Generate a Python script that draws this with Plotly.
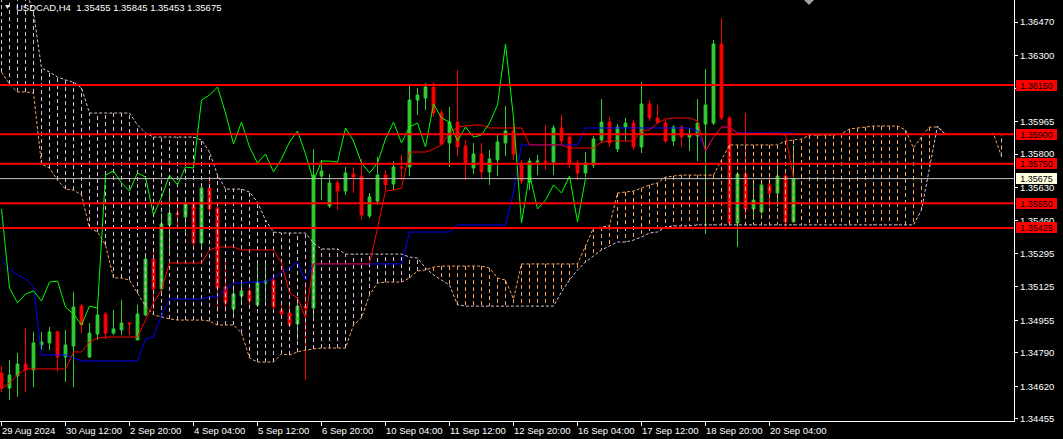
import plotly.graph_objects as go

# ---------------- data (USDCAD H4, bar index 0 = 29 Aug 2024 04:00) ----------------
opens = [1.34688, 1.34612, 1.34673, 1.34734, 1.34704, 1.34831, 1.34841, 1.34897, 1.34770, 1.34825,
         1.35028, 1.34770, 1.34886, 1.34988, 1.34891, 1.34907, 1.34942, 1.34856, 1.34983, 1.35267,
         1.35115, 1.35440, 1.35500, 1.35480, 1.35551, 1.35348, 1.35627, 1.35526, 1.35125, 1.35013,
         1.35079, 1.35105, 1.35034, 1.35145, 1.35160, 1.35008, 1.34993, 1.34937, 1.35028, 1.35018,
         1.35688, 1.35536, 1.35653, 1.35612, 1.35698, 1.35688, 1.35485, 1.35561, 1.35693, 1.35648,
         1.35734, 1.35734, 1.36074, 1.36084, 1.36140, 1.36008, 1.35856, 1.35962, 1.35841, 1.35729,
         1.35800, 1.35709, 1.35770, 1.35856, 1.35917, 1.35754, 1.35658, 1.35759, 1.35764, 1.35759,
         1.35932, 1.35886, 1.35754, 1.35704, 1.35744, 1.35871, 1.35962, 1.35825, 1.35937, 1.35957,
         1.35836, 1.36054, 1.35983, 1.35957, 1.35866, 1.35937, 1.35886, 1.35891, 1.35952, 1.35957,
         1.36358, 1.35983, 1.35450, 1.35698, 1.35521, 1.35506, 1.35643, 1.35602, 1.35688, 1.35455]
highs = [1.34724, 1.34754, 1.34790, 1.34917, 1.34897, 1.34897, 1.34922, 1.34902, 1.34907, 1.35100,
         1.35039, 1.34942, 1.35018, 1.34998, 1.35008, 1.35059, 1.34947, 1.35034, 1.35297, 1.35313,
         1.35500, 1.35627, 1.35566, 1.35566, 1.35566, 1.35638, 1.35668, 1.35536, 1.35267, 1.35135,
         1.35150, 1.35120, 1.35242, 1.35262, 1.35171, 1.35044, 1.35049, 1.35074, 1.35150, 1.35825,
         1.35770, 1.35698, 1.35668, 1.35734, 1.35734, 1.35775, 1.35602, 1.35785, 1.35719, 1.35764,
         1.35795, 1.36155, 1.36135, 1.36160, 1.36165, 1.36023, 1.36039, 1.36226, 1.35871, 1.35856,
         1.35856, 1.35820, 1.35896, 1.36044, 1.35957, 1.35770, 1.35780, 1.35795, 1.35947, 1.35947,
         1.35998, 1.35907, 1.35770, 1.35810, 1.35891, 1.36079, 1.35988, 1.35952, 1.35983, 1.35973,
         1.36165, 1.36074, 1.36049, 1.35973, 1.35947, 1.35947, 1.35932, 1.36079, 1.36231, 1.36379,
         1.36490, 1.35993, 1.35709, 1.36008, 1.35653, 1.35658, 1.35693, 1.35764, 1.35709, 1.35845]
lows = [1.34592, 1.34551, 1.34567, 1.34592, 1.34617, 1.34805, 1.34805, 1.34694, 1.34643, 1.34617,
        1.34891, 1.34765, 1.34856, 1.34861, 1.34881, 1.34881, 1.34881, 1.34856, 1.34978, 1.35008,
        1.35094, 1.35297, 1.35424, 1.35404, 1.35328, 1.35328, 1.35506, 1.34998, 1.34998, 1.34968,
        1.35034, 1.35034, 1.35023, 1.35034, 1.35013, 1.34968, 1.34922, 1.34856, 1.34653, 1.34973,
        1.35566, 1.35526, 1.35516, 1.35592, 1.35602, 1.35465, 1.35475, 1.35541, 1.35617, 1.35617,
        1.35668, 1.35688, 1.35998, 1.36023, 1.35988, 1.35846, 1.35734, 1.35790, 1.35668, 1.35698,
        1.35678, 1.35643, 1.35688, 1.35790, 1.35770, 1.35648, 1.35617, 1.35693, 1.35719, 1.35693,
        1.35846, 1.35729, 1.35668, 1.35683, 1.35729, 1.35856, 1.35836, 1.35810, 1.35866, 1.35820,
        1.35805, 1.35968, 1.35952, 1.35856, 1.35841, 1.35836, 1.35815, 1.35764, 1.35394, 1.35947,
        1.35973, 1.35440, 1.35328, 1.35490, 1.35465, 1.35495, 1.35531, 1.35531, 1.35414, 1.35453]
closes = [1.34612, 1.34678, 1.34734, 1.34704, 1.34841, 1.34846, 1.34897, 1.34770, 1.34831, 1.35023,
          1.34932, 1.34891, 1.34983, 1.34891, 1.34912, 1.34942, 1.34937, 1.34988, 1.35267, 1.35115,
          1.35445, 1.35500, 1.35495, 1.35546, 1.35348, 1.35627, 1.35521, 1.35120, 1.35044, 1.35089,
          1.35105, 1.35054, 1.35150, 1.35155, 1.35023, 1.34988, 1.34932, 1.35028, 1.35018, 1.35693,
          1.35714, 1.35653, 1.35612, 1.35704, 1.35683, 1.35490, 1.35582, 1.35693, 1.35643, 1.35734,
          1.35729, 1.36074, 1.36099, 1.36140, 1.36008, 1.35851, 1.35962, 1.35836, 1.35754, 1.35800,
          1.35709, 1.35775, 1.35861, 1.35917, 1.35800, 1.35663, 1.35764, 1.35764, 1.35759, 1.35932,
          1.35866, 1.35754, 1.35704, 1.35754, 1.35876, 1.35962, 1.35856, 1.35937, 1.35957, 1.35836,
          1.36054, 1.35983, 1.35962, 1.35866, 1.35937, 1.35886, 1.35896, 1.35957, 1.36049, 1.36358,
          1.35983, 1.35450, 1.35698, 1.35521, 1.35566, 1.35643, 1.35602, 1.35688, 1.35455, 1.35675]

tenkan = [1.34607, 1.34638, 1.34678, 1.34709, 1.34709, 1.34709, 1.34709, 1.34709, 1.34709, 1.34795,
          1.34795, 1.34846, 1.34866, 1.34871, 1.34871, 1.34871, 1.34871, 1.34871, 1.34957, 1.35044,
          1.35110, 1.35247, 1.35247, 1.35247, 1.35247, 1.35247, 1.35313, 1.35328, 1.35328, 1.35328,
          1.35313, 1.35313, 1.35313, 1.35313, 1.35313, 1.35247, 1.35094, 1.35069, 1.34968, 1.35242,
          1.35242, 1.35242, 1.35242, 1.35242, 1.35242, 1.35242, 1.35242, 1.35424, 1.35612, 1.35617,
          1.35627, 1.35810, 1.35810, 1.35810, 1.35825, 1.35846, 1.35907, 1.35937, 1.35942, 1.35947,
          1.35947, 1.35932, 1.35932, 1.35932, 1.35932, 1.35932, 1.35846, 1.35846, 1.35846, 1.35846,
          1.35846, 1.35830, 1.35830, 1.35830, 1.35830, 1.35861, 1.35866, 1.35866, 1.35866, 1.35866,
          1.35917, 1.35922, 1.35957, 1.35978, 1.35983, 1.35983, 1.35983, 1.35968, 1.35815, 1.35886,
          1.35937, 1.35937, 1.35907, 1.35902, 1.35902, 1.35902, 1.35902, 1.35902, 1.35896, 1.35678]
kijun = [1.35262, 1.35216, 1.35186, 1.35166, 1.35125, 1.34780, 1.34780, 1.34780, 1.34780, 1.34765,
         1.34749, 1.34749, 1.34749, 1.34749, 1.34749, 1.34749, 1.34749, 1.34749, 1.34861, 1.34871,
         1.34983, 1.35064, 1.35064, 1.35064, 1.35064, 1.35064, 1.35074, 1.35074, 1.35115, 1.35145,
         1.35145, 1.35150, 1.35150, 1.35150, 1.35171, 1.35201, 1.35221, 1.35252, 1.35160, 1.35242,
         1.35242, 1.35242, 1.35242, 1.35242, 1.35242, 1.35242, 1.35242, 1.35242, 1.35242, 1.35242,
         1.35242, 1.35404, 1.35404, 1.35404, 1.35404, 1.35404, 1.35404, 1.35440, 1.35440, 1.35440,
         1.35440, 1.35440, 1.35440, 1.35440, 1.35607, 1.35846, 1.35846, 1.35846, 1.35846, 1.35846,
         1.35846, 1.35846, 1.35846, 1.35932, 1.35932, 1.35932, 1.35932, 1.35932, 1.35932, 1.35932,
         1.35932, 1.35932, 1.35932, 1.35932, 1.35932, 1.35932, 1.35932, 1.35917, 1.35815, 1.35886,
         1.35937, 1.35937, 1.35907, 1.35907, 1.35907, 1.35907, 1.35907, 1.35907, 1.35907, 1.35907]
chikou_shift = 26

span_a = [1.36216, 1.36155, 1.36115, 1.36115, 1.36110, 1.35749, 1.35729, 1.35668, 1.35622, 1.35617,
          1.35592, 1.35424, 1.35404, 1.35338, 1.35171, 1.35171, 1.35160, 1.35094, 1.35028, 1.34983,
          1.34973, 1.34963, 1.34957, 1.34957, 1.34957, 1.34957, 1.34952, 1.34932, 1.34932, 1.34932,
          1.34891, 1.34765, 1.34744, 1.34744, 1.34744, 1.34785, 1.34780, 1.34795, 1.34805, 1.34810,
          1.34815, 1.34815, 1.34815, 1.34815, 1.34932, 1.34968, 1.35084, 1.35145, 1.35150, 1.35150,
          1.35150, 1.35171, 1.35206, 1.35211, 1.35226, 1.35231, 1.35231, 1.35231, 1.35231, 1.35231,
          1.35231, 1.35221, 1.35171, 1.35160, 1.35064, 1.35242, 1.35242, 1.35242, 1.35242, 1.35242,
          1.35242, 1.35242, 1.35242, 1.35333, 1.35424, 1.35429, 1.35435, 1.35602, 1.35607, 1.35612,
          1.35627, 1.35643, 1.35653, 1.35683, 1.35688, 1.35693, 1.35693, 1.35693, 1.35693, 1.35693,
          1.35770, 1.35846, 1.35846, 1.35846, 1.35846, 1.35846, 1.35846, 1.35846, 1.35866, 1.35871,
          1.35876, 1.35896, 1.35896, 1.35896, 1.35896, 1.35902, 1.35927, 1.35932, 1.35937, 1.35942,
          1.35942, 1.35942, 1.35942, 1.35922, 1.35830, 1.35886, 1.35937, 1.35937, 1.35900, 1.35900,
          1.35900, 1.35900, 1.35900, 1.35900, 1.35904, 1.35787]
span_b = [1.36632, 1.36632, 1.36632, 1.36632, 1.36521, 1.36237, 1.36216, 1.36191, 1.36176, 1.36165,
          1.36135, 1.36008, 1.36008, 1.36008, 1.36008, 1.36008, 1.36008, 1.35947, 1.35907, 1.35886,
          1.35886, 1.35886, 1.35886, 1.35886, 1.35886, 1.35871, 1.35810, 1.35693, 1.35622, 1.35622,
          1.35622, 1.35607, 1.35556, 1.35465, 1.35404, 1.35399, 1.35399, 1.35399, 1.35399, 1.35348,
          1.35318, 1.35318, 1.35318, 1.35292, 1.35292, 1.35292, 1.35292, 1.35292, 1.35292, 1.35292,
          1.35292, 1.35277, 1.35272, 1.35221, 1.35186, 1.35160, 1.35135, 1.35034, 1.35028, 1.35028,
          1.35028, 1.35028, 1.35028, 1.35028, 1.35028, 1.35028, 1.35028, 1.35028, 1.35028, 1.35028,
          1.35100, 1.35160, 1.35211, 1.35252, 1.35282, 1.35313, 1.35333, 1.35353, 1.35353, 1.35363,
          1.35379, 1.35399, 1.35404, 1.35429, 1.35435, 1.35435, 1.35435, 1.35440, 1.35440, 1.35440,
          1.35440, 1.35440, 1.35440, 1.35440, 1.35440, 1.35440, 1.35440, 1.35440, 1.35440, 1.35440,
          1.35440, 1.35440, 1.35440, 1.35440, 1.35440, 1.35440, 1.35440, 1.35440, 1.35440, 1.35440,
          1.35440, 1.35440, 1.35440, 1.35440, 1.35440, 1.35516, 1.35738, 1.35942, 1.35900, 1.35900,
          1.35900, 1.35900, 1.35900, 1.35900, 1.35900, 1.35900]

levels = [1.36150, 1.35900, 1.35750, 1.35550, 1.35425]
bid = 1.35675
header = "USDCAD,H4&nbsp; 1.35455 1.35845 1.35453 1.35675"

price_ticks = [1.36470, 1.36300, 1.36135, 1.35965, 1.35800, 1.35630, 1.35460,
               1.35295, 1.35125, 1.34955, 1.34790, 1.34620, 1.34455]
date_ticks = [0, 8, 16, 24, 32, 40, 48, 56, 64, 72, 80, 88, 96]
date_labels = ["29 Aug 2024", "30 Aug 12:00", "2 Sep 20:00", "4 Sep 04:00", "5 Sep 12:00",
               "6 Sep 20:00", "10 Sep 04:00", "11 Sep 12:00", "12 Sep 20:00", "16 Sep 04:00",
               "17 Sep 12:00", "18 Sep 20:00", "20 Sep 04:00"]

# ---------------- styling ----------------
FONT = "Liberation Sans"
BULL = "#32CD32"
BEAR = "#FF0000"
SANDY = "#F4A460"
THISTLE = "#D8BFD8"

bars = list(range(len(closes)))
cloud_x = list(range(len(span_a)))

fig = go.Figure()

# kumo hatching (one vertical dashed stroke per bar)
hx_bull, hy_bull, hx_bear, hy_bear = [], [], [], []
for i, a, b in zip(cloud_x, span_a, span_b):
    if a is None or b is None or a == b:
        continue
    if a > b:
        hx_bull += [i, i, None]
        hy_bull += [a, b, None]
    else:
        hx_bear += [i, i, None]
        hy_bear += [a, b, None]
fig.add_trace(go.Scatter(x=hx_bear, y=hy_bear, mode="lines", hoverinfo="skip",
                         line=dict(color=THISTLE, width=1, dash="4px,3px")))
fig.add_trace(go.Scatter(x=hx_bull, y=hy_bull, mode="lines", hoverinfo="skip",
                         line=dict(color=SANDY, width=1, dash="4px,3px")))

# senkou spans
fig.add_trace(go.Scatter(x=cloud_x, y=span_a, mode="lines", connectgaps=False,
                         line=dict(color=SANDY, width=1, dash="3px,2px")))
fig.add_trace(go.Scatter(x=cloud_x, y=span_b, mode="lines", connectgaps=False,
                         line=dict(color=THISTLE, width=1, dash="3px,2px")))

# kijun / tenkan / chikou
fig.add_trace(go.Scatter(x=bars, y=kijun, mode="lines", line=dict(color="#0000FF", width=1)))
fig.add_trace(go.Scatter(x=bars, y=tenkan, mode="lines", line=dict(color="#FF0000", width=1)))
fig.add_trace(go.Scatter(x=[i - chikou_shift for i in bars[chikou_shift:]],
                         y=closes[chikou_shift:], mode="lines",
                         line=dict(color="#00FF00", width=1)))

# candles
fig.add_trace(go.Candlestick(
    x=bars, open=opens, high=highs, low=lows, close=closes, whiskerwidth=0,
    increasing=dict(line=dict(color=BULL, width=1), fillcolor=BULL),
    decreasing=dict(line=dict(color=BEAR, width=1), fillcolor=BEAR),
    hoverinfo="skip"))

shapes = []
annotations = []
for lv in levels:
    shapes.append(dict(type="line", xref="paper", x0=0, x1=1, yref="y", y0=lv, y1=lv,
                       line=dict(color="#FF0000", width=2), layer="above"))
    annotations.append(dict(xref="paper", x=1, yref="y", y=lv, xanchor="left", yanchor="middle",
                            xshift=2, text=f"{lv:.5f}", showarrow=False, bgcolor="#FF0000",
                            width=39, height=9, borderpad=1, borderwidth=0,
                            font=dict(family=FONT, size=9, color="#000000")))
shapes.append(dict(type="line", xref="paper", x0=0, x1=1, yref="y", y0=bid, y1=bid,
                   line=dict(color="#C0C0C0", width=1), layer="above"))
annotations.append(dict(xref="paper", x=1, yref="y", y=bid, xanchor="left", yanchor="middle",
                        xshift=2, text=f"{bid:.5f}", showarrow=False, bgcolor="#FFFFE0",
                        width=39, height=9, borderpad=1, borderwidth=0,
                        font=dict(family=FONT, size=9, color="#000000")))

# small marker triangles (header drop-down and chart-shift marker)
shapes.append(dict(type="path", xref="paper", yref="paper",
                   path="M 0.00493 0.98812 L 0.00986 0.98812 L 0.0074 0.97862 Z",
                   fillcolor="#E8E8E8", line=dict(width=0), layer="above"))
shapes.append(dict(type="path", xref="paper", yref="paper",
                   path="M 0.79290 1 L 0.80276 1 L 0.79783 0.98812 Z",
                   fillcolor="#A0A0A0", line=dict(width=0), layer="above"))

annotations.append(dict(xref="paper", x=16 / 1014, yref="paper", y=1, xanchor="left",
                        yanchor="middle", xshift=-2, yshift=-7, text=header, showarrow=False,
                        font=dict(family=FONT, size=9.5, color="#FFFFFF")))
for t, lab in zip(date_ticks, date_labels):
    annotations.append(dict(xref="x", x=t, yref="paper", y=0, xanchor="left", yanchor="top",
                            xshift=-2, yshift=-2, text=lab, showarrow=False,
                            font=dict(family=FONT, size=9.5, color="#FFFFFF")))

fig.update_layout(
    template="none", width=1063, height=439,
    margin=dict(l=0, r=49, t=0, b=18),
    paper_bgcolor="#000000", plot_bgcolor="#000000", showlegend=False,
    boxgap=0.5,
    xaxis=dict(range=[-0.1875, 126.5625], showgrid=False, zeroline=False, showline=True,
               linecolor="#FFFFFF", linewidth=1, ticks="outside", ticklen=4, tickcolor="#FFFFFF",
               tickvals=date_ticks, showticklabels=False, rangeslider=dict(visible=False),
               automargin=False, fixedrange=True),
    yaxis=dict(range=[1.344447, 1.365817], side="right", showgrid=False, zeroline=False,
               showline=True, linecolor="#FFFFFF", linewidth=1, ticks="outside", ticklen=3,
               tickcolor="#FFFFFF", tickvals=price_ticks,
               ticktext=[f"{v:.5f}" for v in price_ticks],
               tickfont=dict(family=FONT, size=9.5, color="#FFFFFF"), automargin=False,
               fixedrange=True),
    shapes=shapes, annotations=annotations,
)

fig.write_html("out.html", config={"displayModeBar": False, "staticPlot": True},
               post_script="document.body.style.margin='0';document.body.style.overflow='hidden';"
                           "document.body.style.background='#000';")
